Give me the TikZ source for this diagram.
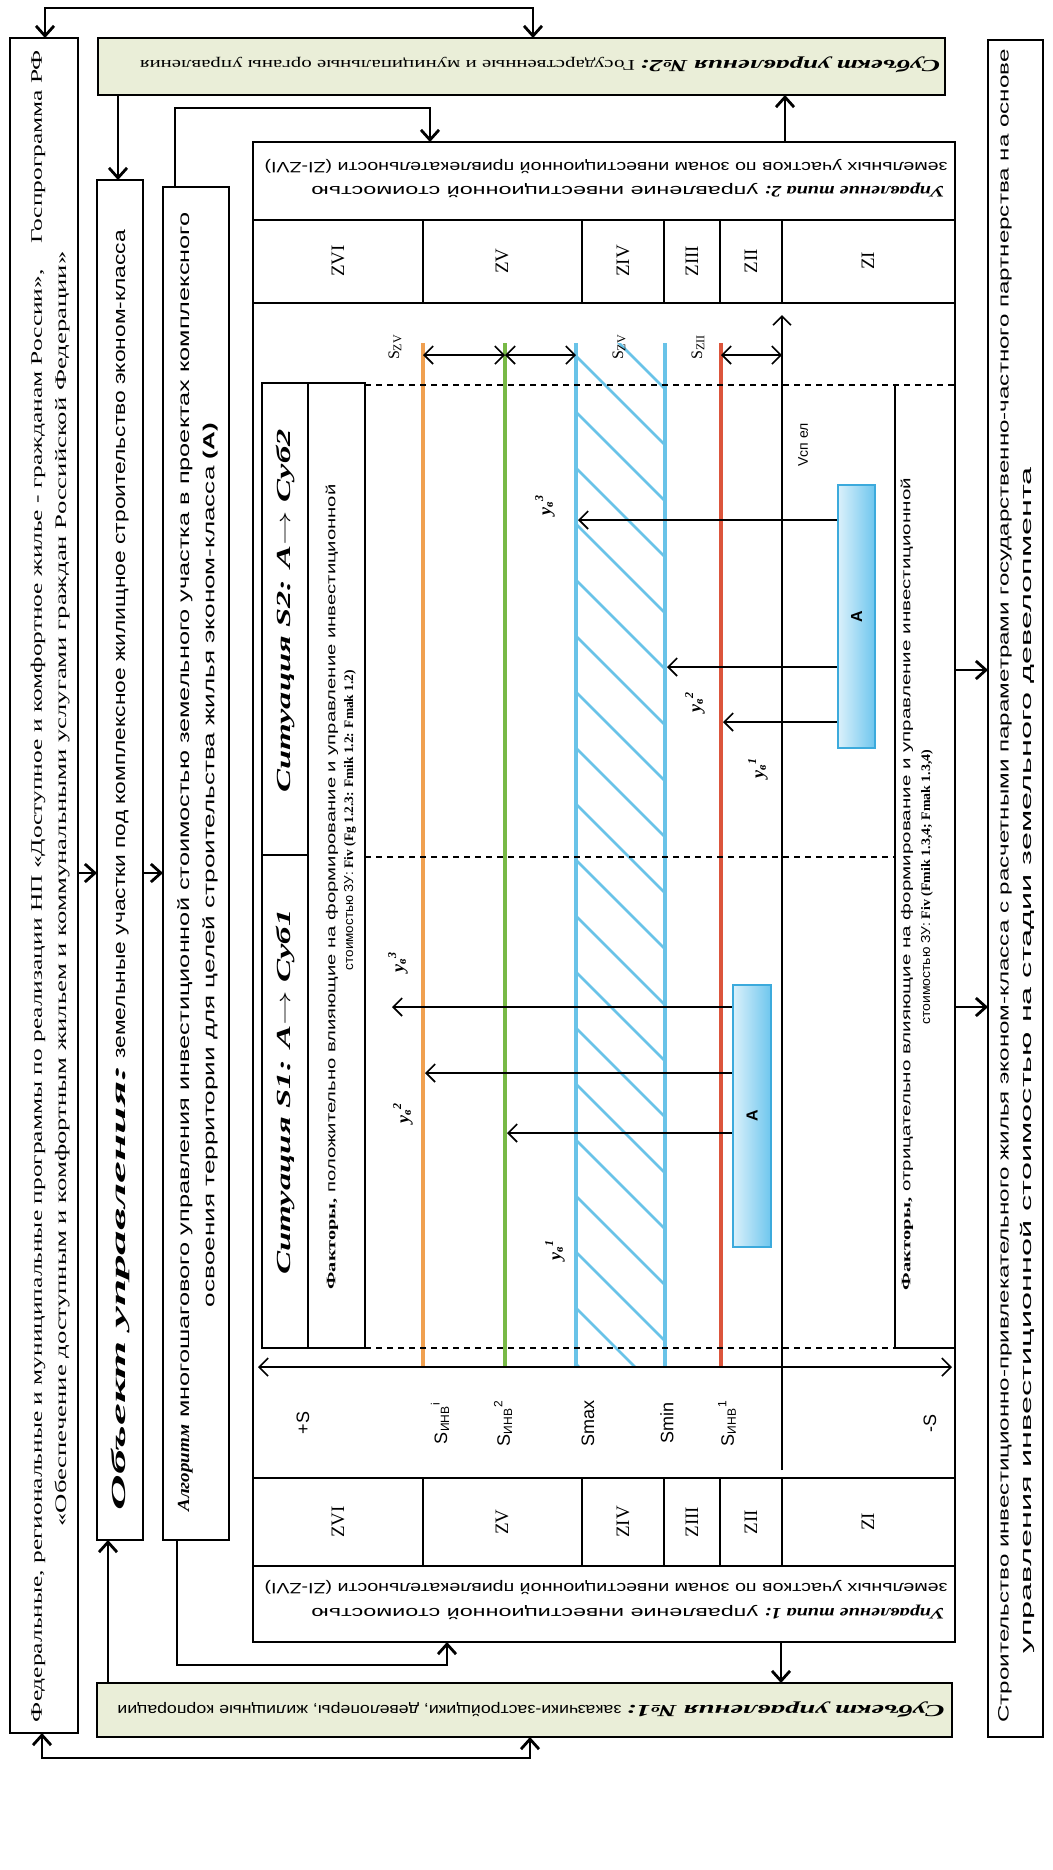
\documentclass[tikz,border=0pt]{standalone}
\usepackage{fontspec}
\setmainfont{Liberation Serif}
\setsansfont{Liberation Sans}
\usepackage{graphicx}
\usetikzlibrary{arrows.meta}

\definecolor{subj}{RGB}{234,238,216}
\definecolor{lorange}{RGB}{240,160,80}
\definecolor{lgreen}{RGB}{120,185,70}
\definecolor{lblue}{RGB}{105,195,232}
\definecolor{lred}{RGB}{220,85,60}
\definecolor{abord}{RGB}{60,170,220}
\definecolor{afill}{RGB}{110,198,238}

\newcommand{\stretchto}[2]{\resizebox{#1pt}{\height}{#2}}
\newcommand{\fsz}[1]{\fontsize{#1}{#1}\selectfont}
\newcommand{\mybox}[6]{%
  \pgfmathsetmacro\mbw{(#4-#2)/2}%
  \pgfmathsetmacro\mbh{(#5-#3)/2}%
  \pgfmathsetmacro\mbx{(#2+#4)/2}%
  \pgfmathsetmacro\mby{(#3+#5)/2}%
  \node[box,minimum width=\mbw pt,minimum height=\mbh pt,#6] (#1) at (\mbx,\mby) {};}
\newcommand{\txl}[6]{%
  \pgfmathsetmacro\tlen{#5/2}%
  \node[rotate=#2,inner sep=0pt] (#1) at (#3,#4) {\stretchto{\tlen}{#6}};}

\begin{document}
\begin{tikzpicture}[x=0.5pt,y=-0.5pt,
  box/.style={draw,line width=1pt,inner sep=0pt,outer sep=0pt},
  frm/.style={line width=1pt},
  conn/.style={line width=1.4pt,-{Straight Barb[length=5pt,width=9pt]}},
  conn2/.style={line width=1.4pt,{Straight Barb[length=5pt,width=9pt]}-{Straight Barb[length=5pt,width=9pt]}},
  carr/.style={line width=0.8pt,-{Straight Barb[length=4.5pt,width=9pt]}},
  carr2/.style={line width=0.8pt,{Straight Barb[length=4.5pt,width=9pt]}-{Straight Barb[length=4.5pt,width=9pt]}},
  cl/.style={line width=1.7pt},
  dsh/.style={line width=0.7pt,dash pattern=on 3pt off 2.5pt},
  zl/.style={rotate=90,inner sep=0pt,font=\fsz{9.5}},
  al/.style={rotate=90,inner sep=0pt,font=\sffamily\fsz{9}},
  yl/.style={rotate=90,inner sep=0pt,font=\bfseries\itshape\fsz{9}},
  sl/.style={rotate=90,inner sep=0pt,font=\fsz{8}}
]
\useasboundingbox (0,0) rectangle (1053,1870);
\fill[white] (0,0) rectangle (1053,1870);

% ---------- main boxes
\mybox{fed}{10}{38}{78}{1733}{}
\mybox{subj2}{98}{38}{945}{95}{fill=subj}
\mybox{subj1}{97}{1683}{952}{1737}{fill=subj}
\mybox{obj}{97}{180}{143}{1540}{}
\mybox{alg}{163}{187}{229}{1540}{}
\mybox{frame}{253}{142}{955}{1642}{}
\mybox{stroi}{988}{40}{1043}{1737}{}

% ---------- zone rows
\draw[frm] (253,220) -- (955,220);
\draw[frm] (253,303) -- (955,303);
\draw[frm] (253,1478) -- (955,1478);
\draw[frm] (253,1566) -- (955,1566);
\foreach \zx in {423,582,664,720,782}{
  \draw[frm] (\zx,220) -- (\zx,303);
  \draw[frm] (\zx,1478) -- (\zx,1566);
}
\foreach \nm/\zx/\zt in {z6/338/ZVI,z5/502/ZV,z4/623/ZIV,z3/692/ZIII,z2/751/ZII,z1/868/ZI}{
  \node[zl] (t\nm) at (\zx,261) {\zt};
  \node[zl] (b\nm) at (\zx,1522) {\zt};
}

% ---------- chart: hatch and coloured lines
\begin{scope}
  \clip (576,343) rectangle (665,1367);
  \foreach \k in {-2,...,20}
    \draw[lblue,line width=1.3pt] (576,{300+\k*56}) -- ++(89,89);
\end{scope}
\draw[lorange,cl] (423,343) -- (423,1367);
\draw[lgreen,cl] (505,343) -- (505,1367);
\draw[lblue,cl] (576,343) -- (576,1367);
\draw[lblue,cl] (665,343) -- (665,1367);
\draw[lred,cl] (721,343) -- (721,1367);

% axes
\draw[carr2] (258,1367) -- (952,1367);
\draw[carr] (782,1470) -- (782,315);
% spacing arrows
\draw[carr2] (423,355) -- (505,355);
\draw[carr2] (505,355) -- (576,355);
\draw[carr2] (721,355) -- (782,355);
\node[sl] (sz1) at (395,347) {S\textsubscript{ZV}};
\node[sl] (sz2) at (619,347) {S\textsubscript{ZV}};
\node[sl] (sz3) at (698,347) {S\textsubscript{ZII}};
\node[rotate=90,inner sep=0pt,font=\sffamily\fsz{7}] (vsp) at (803,445) {Vсп ел};

% dashed lines
\draw[dsh] (365,385) -- (955,385);
\draw[dsh] (365,857) -- (895,857);
\draw[dsh] (365,1348) -- (895,1348);

% situation and factor boxes
\mybox{sit2}{262}{383}{308}{855}{}
\mybox{sit1}{262}{855}{308}{1348}{}
\mybox{fpos}{308}{383}{365}{1348}{}
\draw[frm] (895,385) -- (895,1348) -- (955,1348);
\coordinate (fneg) at (925,866);

% A boxes and arrows
\draw[carr] (771,1007) -- (392,1007);
\draw[carr] (771,1073) -- (425,1073);
\draw[carr] (771,1133) -- (507,1133);
\draw[carr] (875,520) -- (578,520);
\draw[carr] (875,667) -- (667,667);
\draw[carr] (875,722) -- (723,722);
\mybox{a1}{733}{985}{771}{1247}{draw=abord,left color=afill!25,right color=afill}
\mybox{a2}{838}{485}{875}{748}{draw=abord,left color=afill!25,right color=afill}
\node[rotate=90,font=\sffamily\bfseries\fsz{8}] (a1t) at (a1) {A};
\node[rotate=90,font=\sffamily\bfseries\fsz{8}] (a2t) at (a2) {A};

\node[yl] (y13) at (398,962) {у\textsubscript{в}\textsuperscript{3}};
\node[yl] (y12) at (403,1113) {у\textsubscript{в}\textsuperscript{2}};
\node[yl] (y11) at (555,1250) {у\textsubscript{в}\textsuperscript{1}};
\node[yl] (y23) at (545,505) {у\textsubscript{в}\textsuperscript{3}};
\node[yl] (y22) at (695,702) {у\textsubscript{в}\textsuperscript{2}};
\node[yl] (y21) at (758,768) {у\textsubscript{в}\textsuperscript{1}};

% axis labels
\node[al] (lps) at (303,1423) {+S};
\node[al] (lsi) at (440,1423) {S\textsubscript{ИНВ}\textsuperscript{i}};
\node[al] (ls2) at (503,1423) {S\textsubscript{ИНВ}\textsuperscript{2}};
\node[al] (lsx) at (588,1423) {Smax};
\node[al] (lsn) at (667,1423) {Smin};
\node[al] (ls1) at (727,1423) {S\textsubscript{ИНВ}\textsuperscript{1}};
\node[al] (lms) at (930,1423) {-S};

% ---------- texts
\txl{fedA}{90}{38}{886}{1672}{\fsz{8}Федеральные, региональные и муниципальные программы по реализации НП «Доступное и комфортное жилье - гражданам России»,\quad Госпрограмма РФ}
\txl{fedB}{90}{62}{889}{1275}{\fsz{8}«Обеспечение доступным и комфортным жильем и коммунальными услугами граждан Российской Федерации»}

\node[rotate=180,inner sep=0pt] (s2t) at (540,65) {\stretchto{150}{\fsz{8.5}\bfseries\itshape Субъект управления №2:}\stretchto{250}{\fsz{7.5}\ Государственные и муниципальные органы управления}};
\node[rotate=180,inner sep=0pt] (s1t) at (531,1710) {\stretchto{159}{\fsz{8.5}\bfseries\itshape Субъект управления №1:}\stretchto{254.5}{\sffamily\fsz{7.5}\ заказчики-застройщики, девелоперы, жилищные корпорации}};

\node[rotate=90,inner sep=0pt] (objt) at (120,870) {\stretchto{222.5}{\fsz{10}\bfseries\itshape Объект управления:}\stretchto{417.5}{\sffamily\fsz{8.5}\ земельные участки под комплексное жилищное строительство эконом-класса}};

\node[rotate=90,inner sep=0pt] (algA) at (185,862) {\stretchto{43.5}{\fsz{8.5}\bfseries\itshape Алгоритм}\stretchto{606}{\sffamily\fsz{8}\ многошагового управления инвестиционной стоимостью земельного участка в проектах комплексного}};
\txl{algB}{90}{210}{865}{884}{\sffamily\fsz{8}освоения территории для целей строительства жилья эконом-класса \textbf{(А)}}

\node[rotate=180,inner sep=0pt] (u2a) at (628,190) {\stretchto{90}{\fsz{8}\bfseries\itshape Управление типа 2:}\stretchto{226.5}{\sffamily\fsz{7.5}\ управление инвестиционной стоимостью}};
\txl{u2b}{180}{606}{167}{683}{\sffamily\fsz{7.5}земельных участков по зонам инвестиционной привлекательности (ZI-ZVI)}
\node[rotate=180,inner sep=0pt] (u1a) at (628,1612) {\stretchto{90}{\fsz{8}\bfseries\itshape Управление типа 1:}\stretchto{226.5}{\sffamily\fsz{7.5}\ управление инвестиционной стоимостью}};
\txl{u1b}{180}{606}{1587}{683}{\sffamily\fsz{7.5}земельных участков по зонам инвестиционной привлекательности (ZI-ZVI)}

\txl{sit2t}{90}{285}{611}{363}{\fsz{10}\bfseries\itshape Ситуация S2: A$\rightarrow$ Суб2}
\txl{sit1t}{90}{285}{1092}{365}{\fsz{10}\bfseries\itshape Ситуация S1: A$\rightarrow$ Суб1}

\txl{fpA}{90}{332}{887}{805}{\fsz{6.5}\textbf{Факторы,}\sffamily\ положительно влияющие на формирование и управление инвестиционной}
\txl{fpB}{90}{350}{820}{300}{\fsz{6.5}\sffamily стоимостью ЗУ: \rmfamily\bfseries Fiv (Fg 1.2.3: Fmik 1.2: Fmak 1.2)}
\txl{fnA}{90}{907}{884}{812}{\fsz{6.5}\textbf{Факторы,}\sffamily\ отрицательно влияющие на формирование и управление инвестиционной}
\txl{fnB}{90}{927}{887}{275}{\fsz{6.5}\sffamily стоимостью ЗУ: \rmfamily\bfseries Fiv (Fmik 1.3,4; Fmak 1.3,4)}

\txl{stA}{90}{1005}{886}{1673}{\sffamily\fsz{7.5}Строительство инвестиционно-привлекательного жилья эконом-класса с расчетными параметрами государственно-частного партнерства на основе}
\txl{stB}{90}{1027}{1060}{1186}{\sffamily\fsz{7.5}управления инвестиционной стоимостью на стадии земельного девелопмента}

% ---------- connectors
\coordinate (t1) at (45,8);
\coordinate (t2) at (533,8);
\draw[conn2] (fed.north -| t1) -- (t1) -- (t2) -- (subj2.north -| t2);
\coordinate (b1) at (42,1758);
\coordinate (b2) at (530,1758);
\draw[conn2] (fed.south -| b1) -- (b1) -- (b2) -- (subj1.south -| b2);
\coordinate (c1) at (118,0);
\coordinate (c2) at (108,0);
\draw[conn] (subj2.south -| c1) -- (obj.north -| c1);
\draw[conn] (subj1.north -| c2) -- (obj.south -| c2);
\coordinate (at1) at (175,108);
\coordinate (at2) at (430,108);
\draw[conn] (alg.north -| at1) -- (at1) -- (at2) -- (frame.north -| at2);
\coordinate (ab1) at (177,1665);
\coordinate (ab2) at (447,1665);
\draw[conn] (alg.south -| ab1) -- (ab1) -- (ab2) -- (frame.south -| ab2);
\coordinate (c3) at (785,0);
\coordinate (c4) at (781,0);
\draw[conn] (frame.north -| c3) -- (subj2.south -| c3);
\draw[conn] (frame.south -| c4) -- (subj1.north -| c4);
\coordinate (h1) at (0,873);
\draw[conn] (fed.east |- h1) -- (obj.west |- h1);
\draw[conn] (obj.east |- h1) -- (alg.west |- h1);
\coordinate (h2) at (0,670);
\coordinate (h3) at (0,1007);
\draw[conn] (frame.east |- h2) -- (stroi.west |- h2);
\draw[conn] (frame.east |- h3) -- (stroi.west |- h3);
\end{tikzpicture}
\end{document}
